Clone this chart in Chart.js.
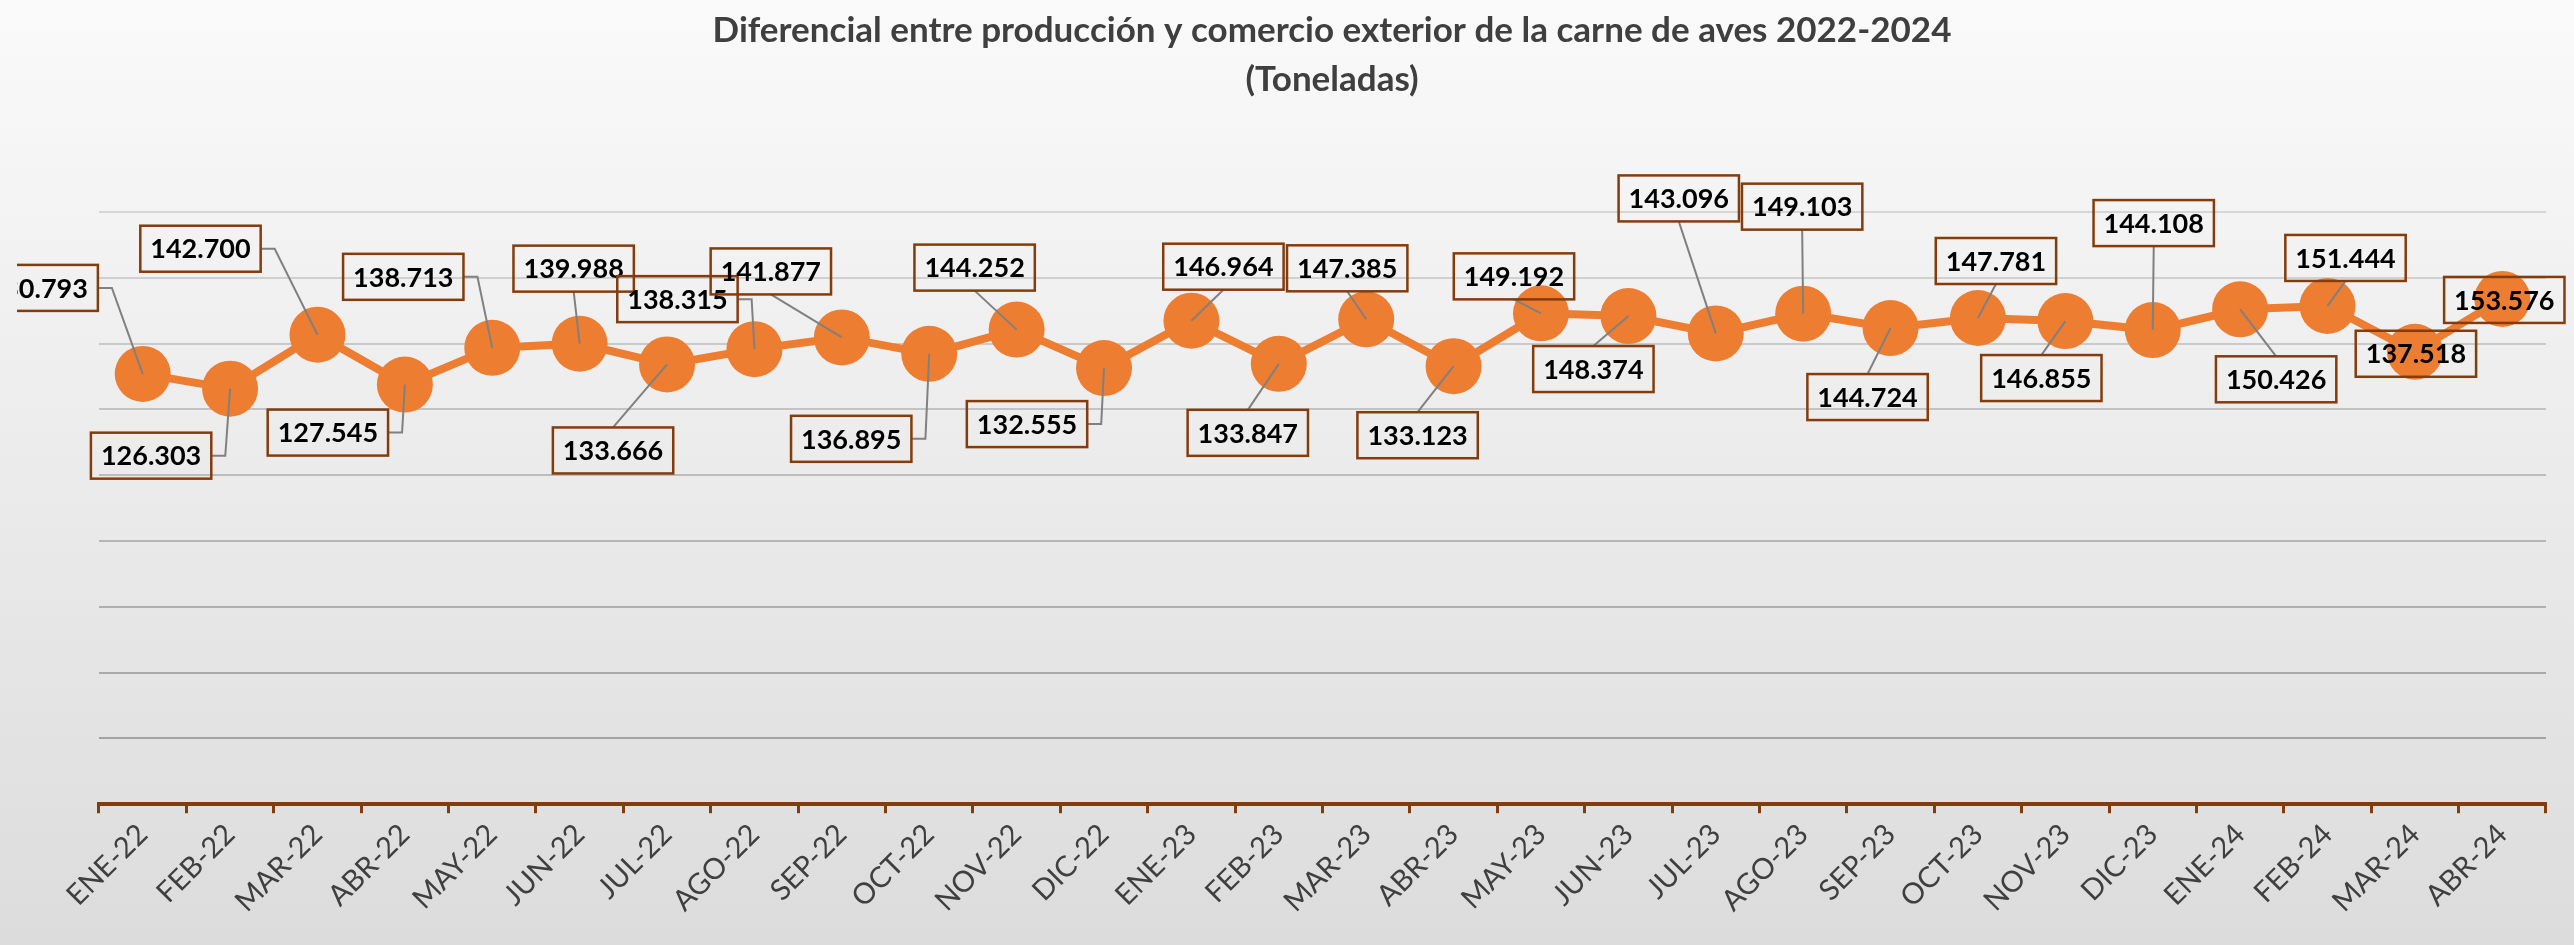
<!DOCTYPE html>
<html>
<head>
<meta charset="utf-8">
<script src="https://cdn.jsdelivr.net/npm/chart.js@4/dist/chart.umd.min.js"></script>
<style>
    html, body { margin: 0; padding: 0; background: #f2f2f2; }
    #wrap { width: 2574px; height: 945px; }
</style>
</head>
<body>
<div id="wrap"><canvas id="charts-aves"></canvas></div>
<script>
// datos (toneladas)
const meses = ['ENE-22','FEB-22','MAR-22','ABR-22','MAY-22','JUN-22','JUL-22','AGO-22','SEP-22','OCT-22','NOV-22','DIC-22',
    'ENE-23','FEB-23','MAR-23','ABR-23','MAY-23','JUN-23','JUL-23','AGO-23','SEP-23','OCT-23','NOV-23','DIC-23',
    'ENE-24','FEB-24','MAR-24','ABR-24'];
const diferencial = [130793,126303,142700,127545,138713,139988,133666,138315,141877,136895,144252,132555,
    146964,133847,147385,133123,149192,148374,143096,149103,144724,147781,146855,144108,
    150426,151444,137518,153576];
const yMin = 0;
const yMax = 180000;
const yStep = 20000;

// desplazamiento de cada etiqueta respecto al punto (px) y de donde sale la guia
const labelOffsets = [[-105,-86],[-79,67],[-117,-86],[-77,48],[-89,-71],[-6,-75],[-54,86],[-77,-50],[-71,-66],[-78,85],
    [-42,-62],[-77,56],[32,-54],[-31,69],[-19,-51],[-36,69],[-27,-37],[-35,53],[-37,-135],[-1,-107],
    [-23,69],[18,-57],[-24,57],[1,-107],[36,70],[18,-48],[1,2],[2,1]];
const labelAnchors = ['r','r','r','r','r','b','t','r','b','r','b','r','b','t','b','t','b','t','b','b',
    't','b','t','b','t','b','',''];

function formatNum(v){
    return v.toString().replace(/\B(?=(\d{3})+(?!\d))/g, '.');
}

const fondo = {
    id: 'fondo',
    beforeDraw: function(chart){
        let ctx = chart.ctx;
        let g = ctx.createLinearGradient(0, 0, 0, chart.height);
        g.addColorStop(0, '#fafafa');
        g.addColorStop(1, '#dcdcdc');
        ctx.save();
        ctx.fillStyle = g;
        ctx.fillRect(0, 0, chart.width, chart.height);
        ctx.restore();
    }
};

const etiquetas = {
    id: 'etiquetas',
    afterDatasetsDraw: function(chart){
        let ctx = chart.ctx;
        let meta = chart.getDatasetMeta(0);
        ctx.save();
        ctx.beginPath();
        ctx.rect(17, 0, chart.width, chart.height);
        ctx.clip();
        ctx.font = 'bold 27px Lato';
        ctx.textAlign = 'center';
        ctx.textBaseline = 'middle';
        meta.data.forEach(function(pt, i){
            let text = formatNum(diferencial[i]);
            let w = ctx.measureText(text).width + 20;
            let h = 46;
            let cx = pt.x + labelOffsets[i][0];
            let cy = pt.y + labelOffsets[i][1];
            let a = labelAnchors[i];
            // linea guia
            if(a){
                ctx.beginPath();
                ctx.strokeStyle = '#808080';
                ctx.lineWidth = 2;
                if(a == 'r'){
                    ctx.moveTo(cx + w/2, cy);
                    ctx.lineTo(cx + w/2 + 14, cy);
                } else if(a == 'b'){
                    ctx.moveTo(cx, cy + h/2);
                } else {
                    ctx.moveTo(cx, cy - h/2);
                }
                ctx.lineTo(pt.x, pt.y);
                ctx.stroke();
            }
            ctx.strokeStyle = '#843C0C';
            ctx.lineWidth = 2.5;
            ctx.strokeRect(cx - w/2, cy - h/2, w, h);
            ctx.fillStyle = '#000000';
            ctx.fillText(text, cx, cy + 1);
        });
        ctx.restore();
    }
};

var config = {
    type: 'line',
    data: {
        labels: meses,
        datasets: [
            {
                label: 'Diferencial',
                data: diferencial,
                borderColor: '#ED7D31',
                backgroundColor: '#ED7D31',
                borderWidth: 8,
                pointRadius: 28,
                pointHoverRadius: 28,
                pointBorderWidth: 0,
                pointBackgroundColor: '#ED7D31',
                tension: 0,
                clip: false,
            }
        ]
    },
    options: {
        responsive: true,
        maintainAspectRatio: false,
        animation: false,
        layout: {
            padding: { left: 99, right: 9, top: 0, bottom: 22 }
        },
        plugins: {
            legend: { display: false },
            tooltip: { enabled: false },
            title: {
                display: true,
                text: ['Diferencial entre producción y comercio exterior de la carne de aves 2022-2024', '(Toneladas)'],
                color: '#3f3f3f',
                font: { family: 'Lato', size: 35, weight: 'bold', lineHeight: 1.4 },
                padding: { top: 6, bottom: 108 }
            }
        },
        scales: {
            x: {
                offset: true,
                grid: {
                    offset: true,
                    drawOnChartArea: false,
                    drawTicks: true,
                    tickLength: 9,
                    tickColor: '#843C0C',
                    tickWidth: 3,
                },
                border: { color: '#843C0C', width: 4 },
                ticks: {
                    color: '#3f3f3f',
                    font: { family: 'Lato', size: 29 },
                    minRotation: 45,
                    maxRotation: 45,
                    padding: 4,
                    autoSkip: false,
                }
            },
            y: {
                min: yMin,
                max: yMax,
                ticks: { display: false, stepSize: yStep },
                border: { display: false },
                grid: {
                    drawTicks: false,
                    lineWidth: 2,
                    color: function(ctx){
                        let t = ctx.index / 9;
                        let c = Math.round(0x9c + (0xd6 - 0x9c) * t);
                        return 'rgb(' + c + ',' + c + ',' + c + ')';
                    }
                }
            }
        }
    },
    plugins: [fondo, etiquetas]
};

var chartAves = new Chart(document.getElementById('charts-aves'), config);
</script>
</body>
</html>
